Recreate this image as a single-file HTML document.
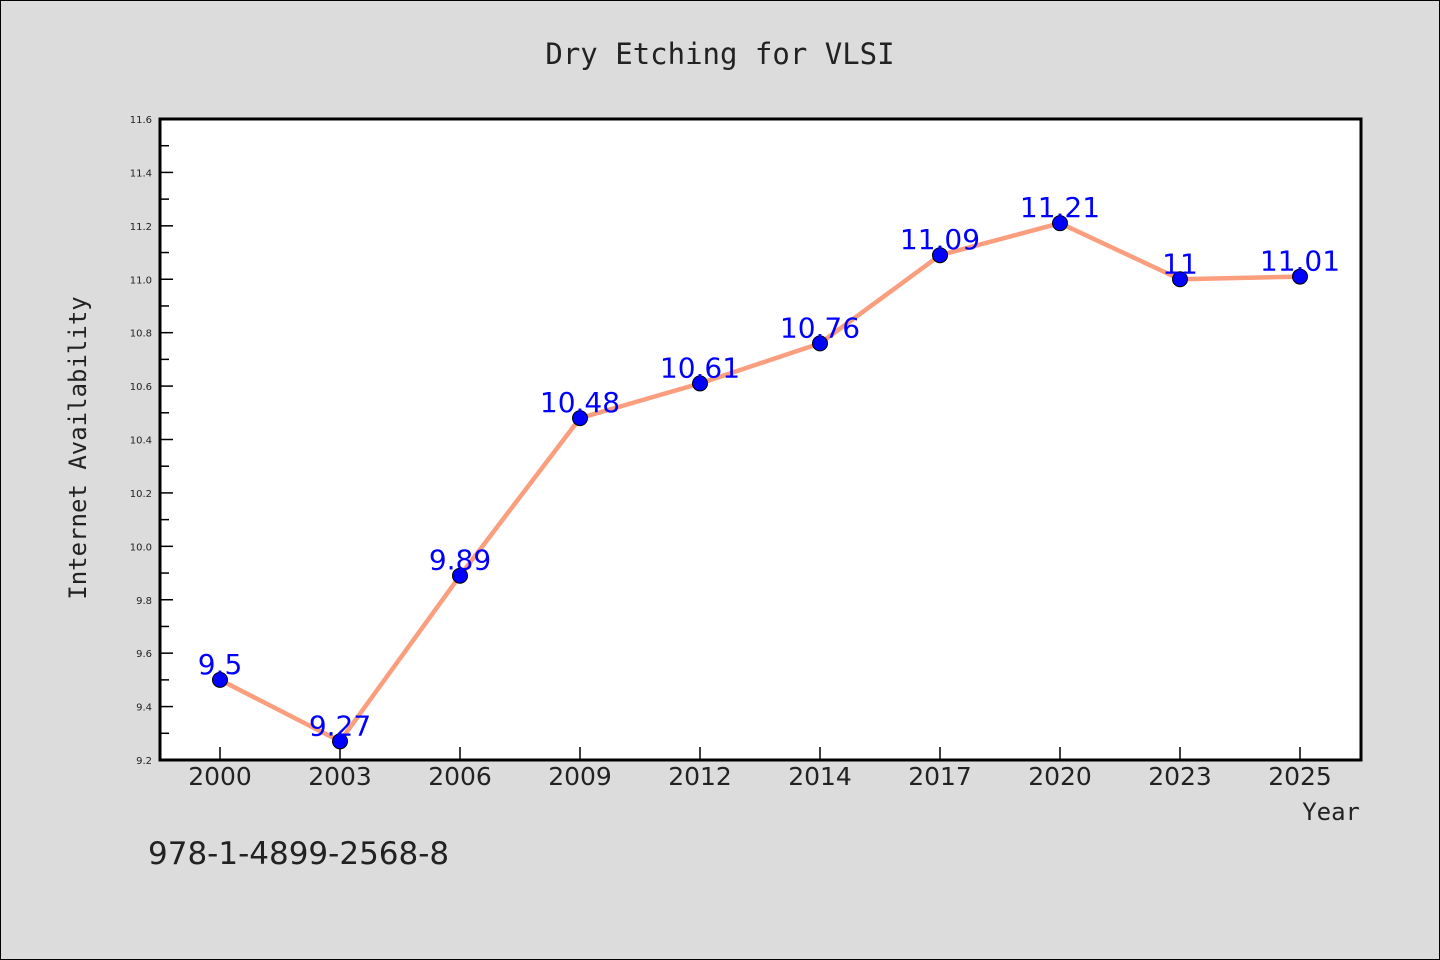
<!DOCTYPE html>
<html><head><meta charset="utf-8"><style>
body{margin:0;background:#dcdcdc;}
svg{display:block;font-family:"WenQuanYi Zen Hei","DejaVu Sans",sans-serif;}
</style></head><body>
<svg width="1440" height="960">
<rect x="0.5" y="0.5" width="1439" height="959" fill="#dcdcdc" stroke="#000"/>
<text x="720" y="64" text-anchor="middle" font-size="29" fill="#222" font-family="'DejaVu Sans Mono',monospace">Dry Etching for VLSI</text>
<rect x="160" y="119" width="1201" height="641" fill="#fff"/>
<g id="yaxis"></g>
<g id="xaxis"></g>
<g id="series"></g>
<rect x="160" y="119" width="1201" height="641" fill="none" stroke="#000" stroke-width="3"/>
<text x="86" y="448" transform="rotate(-90 86 448)" text-anchor="middle" font-size="24" fill="#222" font-family="'DejaVu Sans Mono',monospace">Internet Availability</text>
<text x="1360" y="820" text-anchor="end" font-size="24" fill="#222" font-family="'DejaVu Sans Mono',monospace">Year</text>
<text x="148" y="864" font-size="31" fill="#222">978-1-4899-2568-8</text>
</svg>
<script>
const categories=["2000","2003","2006","2009","2012","2014","2017","2020","2023","2025"];
const values=[9.5,9.27,9.89,10.48,10.61,10.76,11.09,11.21,11.0,11.01];
const valueLabels=["9.5","9.27","9.89","10.48","10.61","10.76","11.09","11.21","11","11.01"];
const yTicks=[9.2,9.4,9.6,9.8,10.0,10.2,10.4,10.6,10.8,11.0,11.2,11.4,11.6];
const NS="http://www.w3.org/2000/svg";
const x0=160,x1=1361,yTop=119,yBot=760,yMin=9.2,yMax=11.6;
const xs=i=>220+i*(1300-220)/(categories.length-1);
const ys=v=>yBot-(v-yMin)/(yMax-yMin)*(yBot-yTop);
function mk(t,a,p){const e=document.createElementNS(NS,t);for(const k in a)e.setAttribute(k,a[k]);p.appendChild(e);return e;}
const ya=document.getElementById('yaxis'),xa=document.getElementById('xaxis'),sr=document.getElementById('series');
yTicks.forEach((v,i)=>{
 const y=ys(v);
 const l=mk('line',{x1:x0,x2:x0+13,y1:y,y2:y,stroke:'#000','stroke-width':1.5},ya);
 
 
 const t=mk('text',{x:152,y:y+4,'text-anchor':'end','font-size':10,fill:'#222'},ya);
 t.textContent=v.toFixed(1);
 
 
 if(i<yTicks.length-1){const ym=ys(v+0.1);
  const m=mk('line',{x1:x0,x2:x0+9,y1:ym,y2:ym,stroke:'#000','stroke-width':1.5},ya);
  
  }
});
categories.forEach((c,i)=>{
 const x=xs(i);
 const l=mk('line',{x1:x,x2:x,y1:yBot,y2:yBot-13,stroke:'#000','stroke-width':1.5},xa);
 
 
 const t=mk('text',{x:x,y:785,'text-anchor':'middle','font-size':25,fill:'#222'},xa);
 t.textContent=c;
 
 
});
const pl=mk('polyline',{points:values.map((v,i)=>xs(i)+','+ys(v)).join(' '),fill:'none',stroke:'#fa9e7d','stroke-width':4.5,'stroke-linejoin':'round'},sr);


values.forEach((v,i)=>{
 const c=mk('circle',{cx:xs(i),cy:ys(v),r:7.5,fill:'#0000ff',stroke:'#000','stroke-width':1},sr);
 
 
});
values.forEach((v,i)=>{
 const t=mk('text',{x:xs(i),y:ys(v)-6,'text-anchor':'middle','font-size':28,fill:'#0000ff'},sr);
 t.textContent=valueLabels[i];
 
 
});
</script>
</body></html>
